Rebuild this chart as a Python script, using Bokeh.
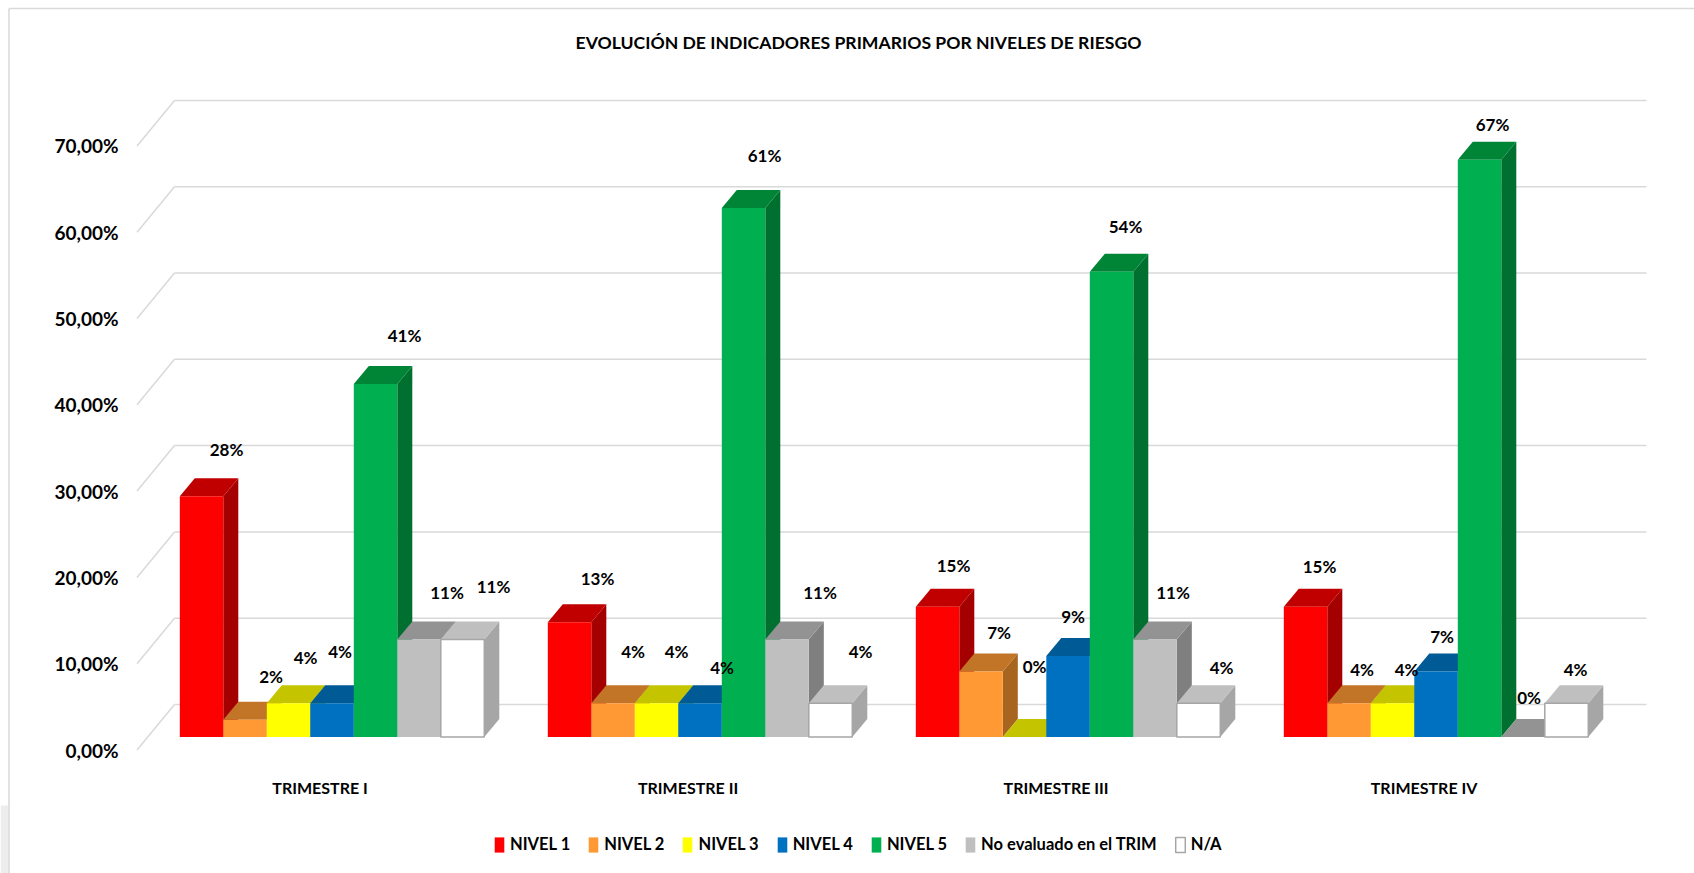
from bokeh.embed import file_html
from bokeh.resources import INLINE
from bokeh.plotting import figure
from bokeh.models import Range1d, FixedTicker, Legend, LegendItem
from bokeh.core.properties import value

# ---- data ----
title = "EVOLUCIÓN DE INDICADORES PRIMARIOS POR NIVELES DE RIESGO"
quarters = ["TRIMESTRE I", "TRIMESTRE II", "TRIMESTRE III", "TRIMESTRE IV"]
series_names = ["NIVEL 1", "NIVEL 2", "NIVEL 3", "NIVEL 4", "NIVEL 5", "No evaluado en el TRIM", "N/A"]
nivel_1 = [27.9, 13.3, 15.1, 15.1]
nivel_2 = [2.0, 3.9, 7.6, 3.9]
nivel_3 = [3.9, 3.9, 0.0, 3.9]
nivel_4 = [3.9, 3.9, 9.4, 7.6]
nivel_5 = [40.9, 61.3, 53.9, 66.9]
no_evaluado = [11.3, 11.3, 11.3, 0.0]
n_a = [11.3, 3.9, 3.9, 3.9]
label_1 = ["28%", "13%", "15%", "15%"]
label_2 = ["2%", "4%", "7%", "4%"]
label_3 = ["4%", "4%", "0%", "4%"]
label_4 = ["4%", "4%", "9%", "7%"]
label_5 = ["41%", "61%", "54%", "67%"]
label_6 = ["11%", "11%", "11%", "0%"]
label_7 = ["11%", "4%", "4%", "4%"]
y_ticks = [0, 10, 20, 30, 40, 50, 60, 70]
y_tick_labels = ["0,00%", "10,00%", "20,00%", "30,00%", "40,00%", "50,00%", "60,00%", "70,00%"]

# ---- style / layout ----
FONT = "Lato"
front = ["#FF0000", "#FF9933", "#FFFF00", "#0070C0", "#00B050", "#BFBFBF", "#FFFFFF"]
top = ["#C00000", "#C27427", "#C4C400", "#005A96", "#008537", "#939393", "#BFBFBF"]
side = ["#A50000", "#A8651F", "#A8A800", "#004C80", "#007030", "#7F7F7F", "#A6A6A6"]
W, H = 1694, 873
PX = 8.63            # pixels per percentage point
Y0 = 749.5           # page y of the value 0
BAR_W = 43.5
FIRST = 179.3
PERIOD = 368.0
DEPTH_X = 15
DEPTH_Y = 18 / PX
BASE = 13 / PX       # front bars stand this far above the axis zero
WALL_DX = 37.5
WALL_X = 136.5
WALL_DY = 45.5 / PX
WALL_END = 1646
LABEL_DX = [[25, 28, 16, 14], [26, 20, 18, 13], [17, 20, 10, 14], [8, 22, 5, 6],
            [29, 21, 14, 13], [28, 33, 18, 6], [31, 30, 23, 9]]
LABEL_DY = [[-47, -44, -41, -40], [-43, -52, -39, -34], [-46, -52, -71, -34], [-52, -36, -39, -35],
            [-49, -52, -45, -35], [-47, -47, -47, -40], [-53, -52, -36, -34]]

values = [nivel_1, nivel_2, nivel_3, nivel_4, nivel_5, no_evaluado, n_a]
labels = [label_1, label_2, label_3, label_4, label_5, label_6, label_7]


def vy(page_y):
    return (Y0 - page_y) / PX


p = figure(
    width=W, height=H, output_backend="svg", toolbar_location=None,
    x_range=Range1d(0, W), y_range=Range1d(vy(H), vy(0)),
    min_border=0, background_fill_color="white", border_fill_color="white",
)
p.outline_line_color = None
p.grid.visible = False

# y axis
p.yaxis.ticker = FixedTicker(ticks=y_ticks)
p.yaxis.major_label_overrides = {t: s for t, s in zip(y_ticks, y_tick_labels)}
p.yaxis.fixed_location = 126
p.yaxis.axis_line_color = None
p.yaxis.major_tick_line_color = None
p.yaxis.minor_tick_line_color = None
p.yaxis.major_label_text_font = FONT
p.yaxis.major_label_text_font_style = "bold"
p.yaxis.major_label_text_font_size = "19px"
p.yaxis.major_label_text_color = "black"
p.yaxis.major_label_standoff = 2

# x axis
centres = [FIRST + c * PERIOD + 3.5 * BAR_W - 12 for c in range(len(quarters))]
p.xaxis.ticker = FixedTicker(ticks=centres)
p.xaxis.major_label_overrides = {t: s for t, s in zip(centres, quarters)}
p.xaxis.fixed_location = vy(767)
p.xaxis.axis_line_color = None
p.xaxis.major_tick_line_color = None
p.xaxis.minor_tick_line_color = None
p.xaxis.major_label_text_font = FONT
p.xaxis.major_label_text_font_style = "bold"
p.xaxis.major_label_text_font_size = "16px"
p.xaxis.major_label_text_color = "black"
p.xaxis.major_label_standoff = 4

# card edge and the grey corner behind it
p.quad(left=[0], right=[8], bottom=[vy(H)], top=[vy(805)], fill_color="#EDEDED", line_color=None)
p.segment(x0=[8.5, 8.5], y0=[vy(8), vy(8)], x1=[8.5, W], y1=[vy(H), vy(8)], line_color="#D9D9D9", line_width=1.5)

# walls
grid_y = [t + WALL_DY for t in y_ticks]
p.segment(x0=[WALL_X + WALL_DX] * len(y_ticks), y0=grid_y, x1=[WALL_END] * len(y_ticks), y1=grid_y,
          line_color="#D9D9D9", line_width=1.5)
p.segment(x0=[WALL_X] * len(y_ticks), y0=y_ticks, x1=[WALL_X + WALL_DX] * len(y_ticks), y1=grid_y,
          line_color="#D9D9D9", line_width=1.5)

# bars
items = []
for i, name in enumerate(series_names):
    xs_f, ys_f, xs_t, ys_t, xs_s, ys_s = [], [], [], [], [], []
    for c, v in enumerate(values[i]):
        x0 = FIRST + c * PERIOD + i * BAR_W
        x1 = x0 + BAR_W
        b = BASE
        t = BASE + v
        xs_f.append([x0, x1, x1, x0]); ys_f.append([b, b, t, t])
        xs_t.append([x0, x1, x1 + DEPTH_X, x0 + DEPTH_X]); ys_t.append([t, t, t + DEPTH_Y, t + DEPTH_Y])
        xs_s.append([x1, x1 + DEPTH_X, x1 + DEPTH_X, x1]); ys_s.append([b, b + DEPTH_Y, t + DEPTH_Y, t])
    edge = "#A6A6A6" if i == 6 else None
    p.patches(xs_s, ys_s, fill_color=side[i], line_color=None)
    p.patches(xs_t, ys_t, fill_color=top[i], line_color=None)
    r = p.patches(xs_f, ys_f, fill_color=front[i], line_color=edge, line_width=1.5)
    items.append(LegendItem(label=name, renderers=[r]))

# data labels go above every bar
for i in range(len(series_names)):
    cx = [FIRST + c * PERIOD + i * BAR_W + BAR_W / 2 for c in range(len(quarters))]
    ty = [BASE + v for v in values[i]]
    p.text(x=cx, y=ty, text=labels[i], x_offset=LABEL_DX[i], y_offset=LABEL_DY[i],
           text_align="center", text_baseline="middle", text_color="black",
           text_font=value(FONT), text_font_style="bold", text_font_size="17px")

# legend
legend = Legend(items=items, orientation="horizontal", location=(493, 19),
                glyph_width=12, glyph_height=19, label_standoff=5, spacing=17,
                padding=0, margin=0, border_line_color=None, background_fill_color=None,
                label_text_font=FONT, label_text_font_style="bold", label_text_font_size="16.5px",
                label_text_color="black")
p.add_layout(legend, "center")

# title
p.text(x=[858], y=[vy(42)], text=[title], text_align="center", text_baseline="middle",
       text_color="black", text_font=value(FONT), text_font_style="bold", text_font_size="17.6px")

open("out.html", "w").write(file_html(p, INLINE))
